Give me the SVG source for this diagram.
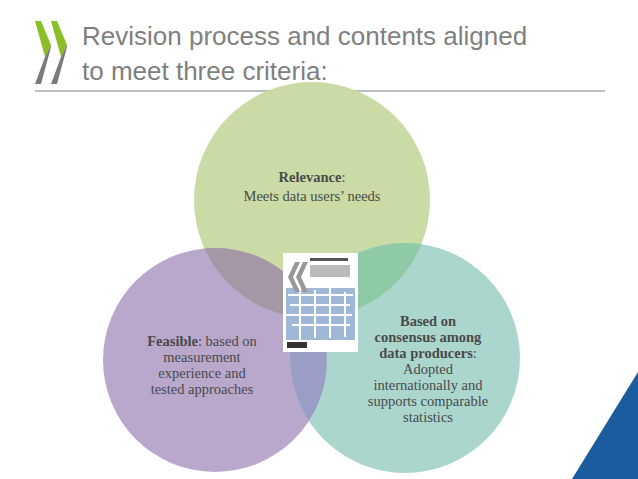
<svg xmlns="http://www.w3.org/2000/svg" width="638" height="479" viewBox="0 0 638 479">
<style>
.t{font-family:"Liberation Sans",Arial,sans-serif;font-size:26px;fill:#7f7f7f}
.l{font-family:"Liberation Serif","Times New Roman",serif;font-size:14.5px;fill:#4a4a4a;text-anchor:middle}
.b{font-weight:bold}
</style>
<defs>
<clipPath id="cT"><circle cx="312" cy="200" r="118"/></clipPath>
<clipPath id="cL"><circle cx="215" cy="360" r="112"/></clipPath>
</defs>
<rect width="638" height="479" fill="#fff"/>
<g id="logo">
<polygon points="35,21 41,21 51,45 45,57" fill="#8cbf26"/>
<polygon points="45,57 51,45 51,47 41,84 35,84" fill="#7a7a7a"/>
<polygon points="51,21 57,21 67,45 61,57" fill="#8cbf26"/>
<polygon points="61,57 67,45 67,47 57,84 51,84" fill="#7a7a7a"/>
</g>
<g id="title">
<text class="t" x="82" y="45">Revision process and contents aligned</text>
<text class="t" x="82" y="80">to meet three criteria:</text>
<line x1="35" y1="91" x2="605" y2="91" stroke="#7f7f7f" stroke-width="1"/>
</g>
<polygon id="corner" points="572,479 638,372 638,479" fill="#1a5c9e"/>
<g id="relevance"><circle cx="312" cy="200" r="118" fill="#cbdba6"/></g>
<g id="feasible"><circle cx="215" cy="360" r="112" fill="#b9a8cc"/></g>
<g id="consensus"><circle cx="405" cy="358" r="115" fill="#abd6ce"/></g>
<g id="overlaps">
<circle cx="215" cy="360" r="112" fill="#a598a6" clip-path="url(#cT)"/>
<circle cx="405" cy="358" r="115" fill="#8fcaa6" clip-path="url(#cT)"/>
<g clip-path="url(#cL)"><circle cx="405" cy="358" r="115" fill="#9a9dc6"/></g>
</g>
<g id="book">
<rect x="283" y="253" width="75" height="99" fill="#fff"/>
<rect x="286" y="288" width="69" height="52" fill="#9fb8d8"/>
<path d="M288,295h65M290,305h60M286,315h66M292,325h58M300,288v52M315,290v48M330,288v50M345,292v45" stroke="#fff" stroke-width="2"/>
<polygon points="295,262 300,262 293,277 300,292 295,292 288,277" fill="#999"/>
<polygon points="303,262 308,262 301,277 308,292 303,292 296,277" fill="#999"/>
<rect x="310" y="258" width="38" height="3" fill="#555"/>
<rect x="310" y="265" width="40" height="12" fill="#bbb"/>
<rect x="287" y="342" width="20" height="6" fill="#333"/>
</g>
<g id="labels">
<text class="l" x="312" y="182"><tspan class="b">Relevance</tspan>:</text>
<text class="l" x="312" y="201">Meets data users’ needs</text>
<text class="l" x="202" y="346"><tspan class="b">Feasible</tspan>: based on</text>
<text class="l" x="202" y="362">measurement</text>
<text class="l" x="202" y="378">experience and</text>
<text class="l" x="202" y="394">tested approaches</text>
<text class="l b" x="428" y="326">Based on</text>
<text class="l b" x="428" y="342">consensus among</text>
<text class="l" x="428" y="358"><tspan class="b">data producers</tspan>:</text>
<text class="l" x="428" y="374">Adopted</text>
<text class="l" x="428" y="390">internationally and</text>
<text class="l" x="428" y="406">supports comparable</text>
<text class="l" x="428" y="422">statistics</text>
</g>
</svg>
